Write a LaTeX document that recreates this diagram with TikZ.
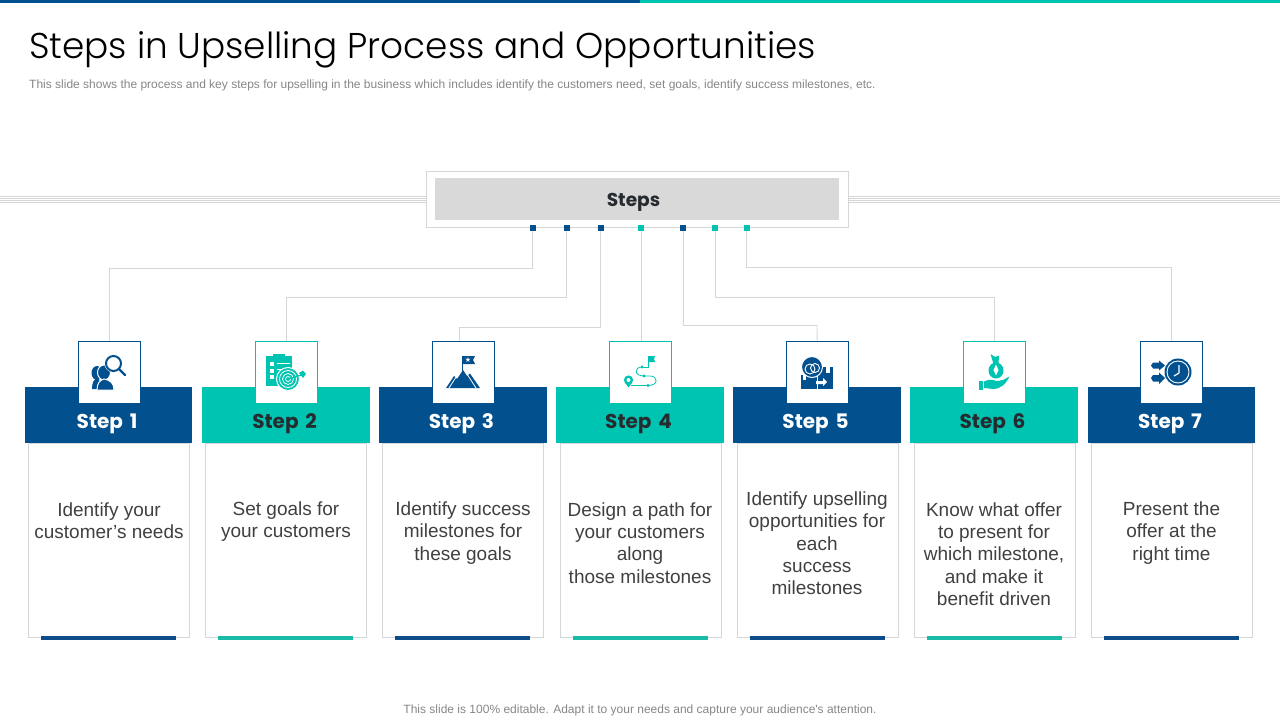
\documentclass[tikz,border=0pt]{standalone}
\usepackage{fontspec}
\setmainfont{Poppins}
\newfontfamily\titlefont{Poppins}[UprightFont=* Light]
\newfontfamily\subfont{Liberation Sans}
\newfontfamily\symfont{DejaVu Sans}
\definecolor{navy}{HTML}{03508F}
\definecolor{teal}{HTML}{00C4B2}
\definecolor{navyfoot}{HTML}{0F4C8A}
\definecolor{tealfoot}{HTML}{1ABCA8}
\definecolor{rule}{HTML}{D4D6D8}
\definecolor{inkdark}{HTML}{262B30}
\tikzset{wire/.style={draw=rule,line width=0.9pt}}
\tikzset{band/.style={minimum width=167.5pt,minimum height=56pt,inner sep=0pt}}
\tikzset{card/.style={draw=rule,line width=0.8pt,minimum width=161.5pt,minimum height=194pt,inner sep=0pt}}
\tikzset{iconbox/.style={draw,fill=white,line width=1pt,minimum size=62pt,inner sep=0pt}}
\tikzset{txt/.style={align=center,text=black!75,font=\subfont\fontsize{19}{22.3}\selectfont}}
\tikzset{pin/.style={minimum size=6pt,inner sep=0pt}}
\tikzset{foot/.style={minimum width=135pt,minimum height=4pt,inner sep=0pt}}
\begin{document}
\begin{tikzpicture}[x=1pt,y=-1pt]
\useasboundingbox (0,0) rectangle (1280,720);
\fill[navy] (0,0) rectangle (640,3);
\fill[teal] (640,0) rectangle (1280,3);
\node[anchor=west,inner sep=0pt,font=\titlefont\fontsize{35.85}{36}\selectfont,text=black] (title) at (29,49.5) {Steps in Upselling Process and Opportunities};
\node[anchor=west,inner sep=0pt,text=gray!95,font=\subfont\fontsize{12}{12}\selectfont] (sub) at (29,85) {This slide shows the process and key steps for upselling in the business which includes identify the customers need, set goals, identify success milestones, etc.};
\node[inner sep=0pt,text=gray!95,font=\subfont\fontsize{12}{12}\selectfont] (note) at (640,710) {This slide is 100\% editable. Adapt it to your needs and capture your audience's attention.};
% side rules behind the header
\foreach \yy in {196.5,198.5,200.5,202.5} {
  \draw[rule,line width=0.6pt] (0,\yy) -- (1280,\yy);
}
\node[draw=rule,fill=white,line width=0.9pt,minimum width=422pt,minimum height=56pt,inner sep=0pt] (frame) at (637.5,199) {};
\node[fill=black!15,minimum width=404pt,minimum height=42pt,inner sep=0pt] (head) at (637,199) {};
\node[text=inkdark,inner sep=0pt,font=\fontsize{18.6}{19}\selectfont\bfseries] (headlab) at (633.5,202) {Steps};
% cards, bands and icon boxes
\foreach \n/\xx/\cx/\bx/\col/\fcol/\tcol in {1/108.5/109/109.5/navy/navyfoot/white,2/286/286/286.5/teal/tealfoot/inkdark,3/463/463/463.5/navy/navyfoot/white,4/640/641/640.5/teal/tealfoot/inkdark,5/817/818/817.5/navy/navyfoot/white,6/994/995/994.5/teal/tealfoot/inkdark,7/1171.5/1172/1171.5/navy/navyfoot/white} {
  \node[card] (card\n) at (\cx,540) {};
  \node[foot,fill=\fcol] (foot\n) at (\cx-0.5,638) {};
  \node[band,fill=\col] (band\n) at (\xx,415) {};
  \node[iconbox,draw=\col] (box\n) at (\bx,372) {};
  \node[text=\tcol,inner sep=0pt,font=\fontsize{20}{20}\selectfont\bfseries] (lab\n) at (\xx-1.5,424) {Step\hspace{2.5pt} \n};
}
% pins on the header frame
\foreach \n/\xx/\col in {1/532.5/navy,2/566.5/navy,3/600.5/navy,4/641/teal,5/683.4/navy,6/715/teal,7/746.5/teal} {
  \node[pin,fill=\col] (pin\n) at (\xx,228) {};
}
\draw[wire] (pin1) |- (109.5,268) -- (box1);
\draw[wire] (pin2) |- (286.5,297) -- (box2);
\draw[wire] (pin3) |- (459.5,327) -- (459.5,341);
\draw[wire] (pin4) -- (641,341);
\draw[wire] (pin5) |- (817,325.5) -- (box5);
\draw[wire] (pin6) |- (994.5,297) -- (box6);
\draw[wire] (pin7) |- (1171.5,267) -- (box7);
% texts
\node[txt] (t1) at (109,521) {Identify your\\customer’s needs};
\node[txt] (t2) at (286,521.6) {Set goals for\\your customers};
\node[txt] (t3) at (463,532.8) {Identify success\\milestones for\\these goals};
\node[txt] (t4) at (640,543) {Design a path for\\your customers\\along\\those milestones};
\node[txt] (t5) at (817,543.5) {Identify upselling\\opportunities for\\each\\success\\milestones};
\node[txt] (t6) at (994,554) {Know what offer\\to present for\\which milestone,\\and make it\\benefit driven};
\node[txt] (t7) at (1171.5,532.8) {Present the\\offer at the\\right time};
% icon 1: people with magnifier
\begin{scope}[navy]
\fill (97,373) ellipse (5.5 and 7);
\fill (92,389) .. controls (92,382) and (94,379) .. (98,378) -- (104,389) -- cycle;
\draw[white,line width=1pt,fill=navy] (104,372.5) ellipse (6.5 and 7.5);
\draw[white,line width=1pt,fill=navy] (97,390) .. controls (97,383) and (100,380) .. (104,379) .. controls (110,380) and (114,383) .. (114,390) -- cycle;
\draw[white,line width=3pt,fill=white] (113.5,363.5) circle (7.5);
\draw[line width=2pt] (113.5,363.5) circle (7.5);
\draw[line width=2.4pt,line cap=round] (119,369) -- (125,375);
\end{scope}
% icon 2: clipboard and target
\begin{scope}[teal]
\fill (266,356) rectangle (292,386);
\fill (273,353.5) rectangle (285,358);
\foreach \yy in {362,368.5,375} {
  \fill[white] (270,\yy) rectangle (274,\yy+4);
  \draw[white,line width=0.7pt] (277,\yy+1) -- (290,\yy+1);
}
\draw[white,line width=1pt,fill=teal] (288,379) circle (11.5);
\foreach \rr in {8.5,5.5,2.5} {
  \draw[white,line width=0.8pt] (288,379) circle (\rr);
}
\draw[line width=1.2pt] (288,379) -- (303,374.5);
\fill (299,373) -- (303,370.5) -- (306,374) -- (303,378) -- cycle;
\end{scope}
% icon 3: mountain and flag
\begin{scope}[navy]
\fill (446,388) -- (454,376) -- (457,379) -- (463,370) -- (467,376) -- (470,373.5) -- (480,388) -- cycle;
\draw[white,line width=0.8pt] (449,388) -- (458,374);
\draw[white,line width=0.8pt] (476,388) -- (467,374);
\draw[line width=1pt] (462.5,371) -- (462.5,356);
\fill (462.5,356) -- (475,356) -- (473,360) -- (475,364) -- (462.5,364) -- cycle;
\node[text=white,inner sep=0pt,font=\symfont\fontsize{7}{7}\selectfont] (star3) at (468,360) {★};
\end{scope}
% icon 4: route with flag
\begin{scope}[teal]
\draw[line width=0.8pt] (631,385.5) -- (648,385.5) .. controls (659,385.5) and (658,376) .. (650,376) -- (644,376) .. controls (634,376) and (634,367) .. (642,367);
\fill (648,385.5) circle (1.7);
\fill (644,376) circle (1.7);
\fill (642,367) circle (1.7);
\draw[line width=0.9pt] (642,367) -- (648,367) -- (648,356);
\fill (648,356) -- (655,356) -- (654,359) -- (655,362) -- (648,362) -- cycle;
\fill (628.5,380) circle (4.6);
\fill (624.5,382) -- (632.5,382) -- (628.5,387.5) -- cycle;
\fill[white] (628.5,380) circle (2);
\end{scope}
% icon 5: magnifier over parcel
\begin{scope}[navy]
\fill (801,375) rectangle (833,388.5);
\fill (818,367) rectangle (833,375);
\draw[white,line width=1pt,fill=navy] (812,367) circle (10.5);
\draw[white,line width=0.9pt] (810,369) circle (5);
\draw[white,line width=0.9pt] (815,368) circle (4.5);
\fill[white] (803,375) rectangle (806,380);
\fill[white] (826,367) rectangle (830,373);
\fill[white] (816,381) -- (823,381) -- (823,378) -- (827,382) -- (823,386) -- (823,384) -- (816,384) -- cycle;
\draw[white,line width=0.9pt] (817,376) -- (817,388.5);
\end{scope}
% icon 6: hand holding bag
\begin{scope}[teal]
\fill (996,370.5) ellipse (7.5 and 8);
\fill (993.5,364) -- (990.5,354) -- (995,357) -- (999,355.5) -- (998.5,364) -- cycle;
\fill[white] (996,364.5) -- (998.5,370) -- (996,375.5) -- (993.5,370) -- cycle;
\fill (979,381) rectangle (982.5,390);
\fill (984,381.5) .. controls (990,378.5) and (992,380) .. (997,381) -- (1003,380) -- (1009.5,376.5) .. controls (1006,384) and (1000,389) .. (994,389) -- (984,388) -- cycle;
\end{scope}
% icon 7: arrows into clock
\begin{scope}[navy]
\fill (1178,372) circle (13.5);
\draw[white,line width=0.9pt] (1178,372) circle (11);
\draw[white,line width=1.2pt] (1179,365) -- (1179,373) -- (1174,376);
\fill (1153,362.5) -- (1159,362.5) -- (1159,360.5) -- (1165,365.5) -- (1159,370.5) -- (1159,368.5) -- (1153,368.5) -- (1151,365.5) -- cycle;
\fill (1153,375) -- (1159,375) -- (1159,372.5) -- (1165,378) -- (1159,384) -- (1159,381.5) -- (1153,381.5) -- (1151,378) -- cycle;
\end{scope}
\end{tikzpicture}
\end{document}
